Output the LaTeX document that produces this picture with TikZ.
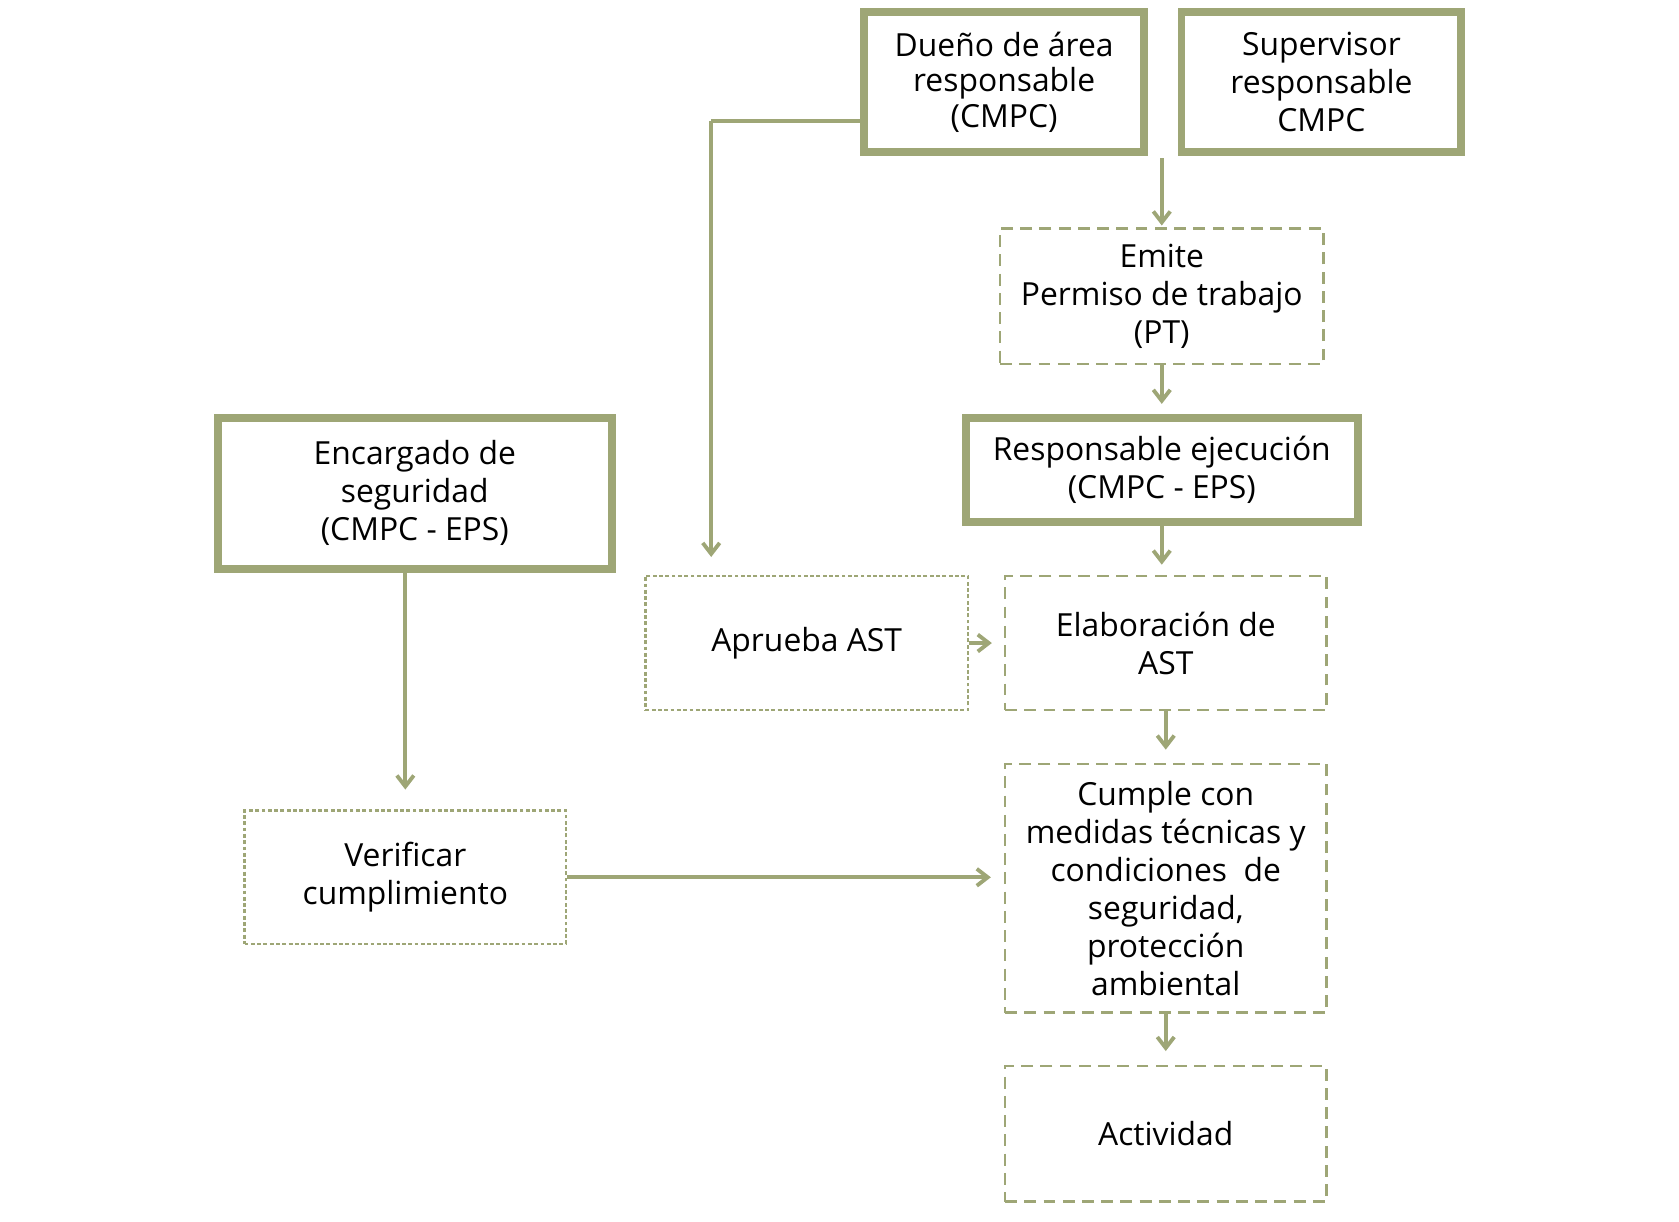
\documentclass[tikz,border=0pt]{standalone}
\usepackage{fontspec}
\setmainfont{Open Sans}
\usetikzlibrary{arrows.meta}
\definecolor{boxgreen}{RGB}{158,166,118}
\begin{document}
\begin{tikzpicture}[x=0.01cm,y=-0.01cm,
    font=\fontsize{9.1}{10.85}\selectfont,
    thickbox/.style={draw=boxgreen,line width=2.2pt,align=center,inner sep=0pt},
    dashbox/.style={draw=boxgreen,line width=0.7pt,dash pattern=on 3.4pt off 2.1pt,
      align=center,inner sep=0pt,minimum width=3.23cm},
    dotbox/.style={draw=boxgreen,line width=0.65pt,dash pattern=on 1.1pt off 0.7pt,
      align=center,inner sep=0pt,minimum width=3.23cm},
    link/.style={draw=boxgreen,line width=1.1pt,-{Straight Barb[length=1.1mm,width=1.7mm]}}]
  \useasboundingbox (0,0) rectangle (1688,1228.5);
  \draw
    (1009.5,82.5) node[thickbox,minimum width=2.81cm,minimum height=1.41cm,
      font=\fontsize{9.1}{10.1}\selectfont] (dueno){Dueño de área\\responsable\\(CMPC)}
    (1328.5,82.5) node[thickbox,minimum width=2.81cm,minimum height=1.41cm] (super){Supervisor\\responsable\\CMPC}
    (1168,298) node[dashbox,minimum width=3.25cm,minimum height=1.36cm] (emite){Emite\\Permiso de trabajo\\(PT)}
    (1168,472.5) node[thickbox,minimum width=3.94cm,minimum height=1.05cm] (resp){Responsable ejecución\\(CMPC - EPS)}
    (1172,646.5) node[dashbox,minimum height=1.35cm] (elab){Elaboración de\\AST}
    (811,646.5) node[dotbox,minimum width=3.24cm,minimum height=1.35cm] (aprueba){Aprueba AST}
    (417,496) node[thickbox,minimum width=3.96cm,minimum height=1.52cm] (encargado){Encargado de\\seguridad\\(CMPC - EPS)}
    (407.5,882) node[dotbox,minimum height=1.34cm] (verificar){Verificar\\cumplimiento}
    (1172,893) node[dashbox,minimum height=2.5cm] (cumple){Cumple con\\medidas técnicas y\\condiciones \ de\\seguridad,\\protección\\ambiental}
    (1172,1140) node[dashbox,minimum height=1.36cm] (actividad){Actividad};
  \coordinate (split) at (1168,159);
  \coordinate (bend) at (715,122);
  \coordinate (tip) at (715,560);
  \begin{scope}[link]
    \draw[shorten >=0.02cm] (split) to (emite.north);
    \draw[shorten >=0.1cm] (emite.south) to (resp.north);
    \draw[shorten >=0.1cm] (resp.south) to (resp.south |- elab.north);
    \draw[shorten >=0.12cm] (aprueba.east) to (elab.west);
    \draw[shorten >=0.13cm] (elab.south) to (cumple.north);
    \draw[shorten >=0.14cm] (cumple.south) to (actividad.north);
    \draw[-] (dueno.west |- bend) -- (bend);
    \draw (bend) -- (tip);
    \draw[shorten >=0.2cm] (verificar.north |- encargado.south) to (verificar.north);
    \draw[shorten >=0.13cm] (verificar.east) to (cumple.west |- verificar.east);
  \end{scope}
\end{tikzpicture}
\end{document}
